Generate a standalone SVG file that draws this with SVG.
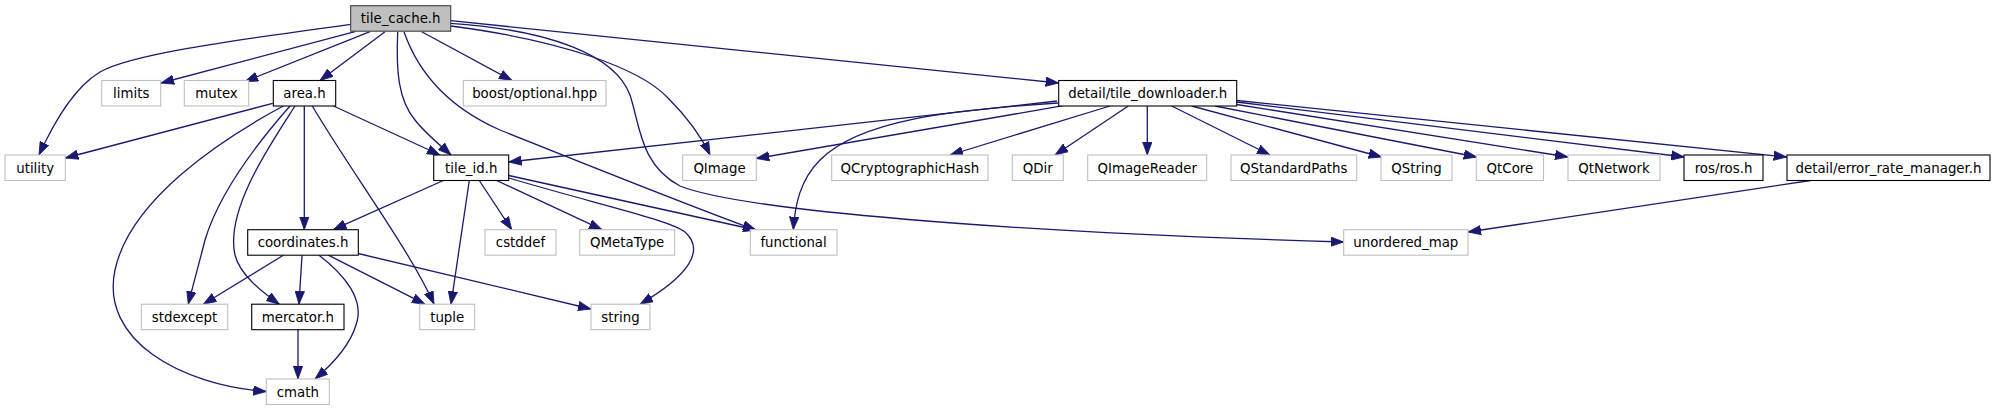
<svg xmlns="http://www.w3.org/2000/svg" width="1995" height="411" viewBox="0 0 1995 411">
<style>
.n rect{fill:#ffffff;stroke:#000000;stroke-width:1.1}
.n.root rect{fill:#bfbfbf;stroke:#404040}
.n.ext rect{stroke:#bfbfbf}
.n text{font-family:"DejaVu Sans",sans-serif;font-size:13.33px;fill:#000000;text-anchor:middle}
#edges path{fill:none;stroke:#191970;stroke-width:1.3;marker-end:url(#arr)}
</style>
<defs>
<marker id="arr" markerUnits="userSpaceOnUse" markerWidth="14" markerHeight="10" viewBox="0 0 14 10" refX="13" refY="5" orient="auto">
<path d="M0,0.3 L13,5 L0,9.7 z" fill="#191970" stroke="#191970" stroke-width="0.8"/>
</marker>
</defs>
<rect width="1995" height="411" fill="#ffffff"/>
<g id="edges">
<!-- tile_cache.h -->
<path d="M350.7,24.3 C220,42 130,55 100,72 C75,87 56,118 39,155"/>
<path d="M355,31.7 L161,83"/>
<path d="M370,31.7 L245,81.5"/>
<path d="M385,31.7 L320,80.5"/>
<path d="M397.7,31.7 C396,70 398,100 415,120 C425,133 440,145 451,155"/>
<path d="M404,31.7 C418,72 448,107 500,130 C600,170 700,210 756,230"/>
<path d="M421.7,31.7 L512,80.5"/>
<path d="M450.7,26 C560,40 640,68 668,98 C688,118 702,138 710,155"/>
<path d="M450.7,23.3 C550,30 615,55 630,95 C640,125 640,165 680,186 C740,210 1000,232 1343.7,242"/>
<path d="M450.7,20.7 L1058.7,83"/>
<!-- area.h -->
<path d="M272.7,103.3 L65.3,158"/>
<path d="M283.3,106 C220,140 130,200 115,270 C100,340 180,385 266.3,391.5"/>
<path d="M290,106 C260,140 220,190 205,240 C200,260 193,285 188.3,304.2"/>
<path d="M295,106 C270,145 225,210 235,255 C240,275 262,292 279.3,304.2"/>
<path d="M304.3,106 L304.3,229.7"/>
<path d="M312.3,106 C350,170 410,250 434,304.2"/>
<path d="M333.5,106 L440,155"/>
<!-- tile_id.h -->
<path d="M443.3,180.5 L333.3,229.7"/>
<path d="M469.3,180.5 L451,304.2"/>
<path d="M479.3,180.5 L511.7,229.7"/>
<path d="M496.7,180.5 L602,229.7"/>
<path d="M508.7,178 C600,205 670,220 685,232 C705,250 690,275 640,304.2"/>
<path d="M508.7,175.5 L756,230"/>
<!-- coordinates.h -->
<path d="M283.3,255.2 L203.3,304.2"/>
<path d="M302,255.2 L299,304.2"/>
<path d="M319,255.2 C345,275 365,300 356,325 C350,345 335,362 315,379"/>
<path d="M328.3,255.2 L425,304.2"/>
<path d="M358.3,253.5 L591,309"/>
<!-- mercator.h -->
<path d="M298,329.7 L298,379"/>
<!-- tile_downloader.h -->
<path d="M1057,101 L508.7,162"/>
<path d="M1063.3,105.7 L756.3,158.5"/>
<path d="M1058,103 C950,110 860,120 820,160 C800,180 795,205 793.3,229.7"/>
<path d="M1110,106 L950,155"/>
<path d="M1128.3,106 L1055,155"/>
<path d="M1147.3,106 L1147.3,155"/>
<path d="M1171.7,106 L1270,155"/>
<path d="M1191.7,106 L1381.7,157"/>
<path d="M1215,106 L1476.7,157"/>
<path d="M1236.7,104.5 L1568,157"/>
<path d="M1236.7,102 L1684.3,157"/>
<path d="M1236.7,100.5 L1786.7,157"/>
<!-- error_rate_manager.h -->
<path d="M1810.6,180.5 L1468,232"/>
</g>
<g id="node_tile_cache" class="n root"><rect x="350.7" y="5.7" width="100" height="25.5"/><text x="400.7" y="23.2">tile_cache.h</text></g>
<g id="node_limits" class="n ext"><rect x="101.7" y="80.5" width="59" height="25.5"/><text x="131.2" y="98">limits</text></g>
<g id="node_mutex" class="n ext"><rect x="184.3" y="80.5" width="64.4" height="25.5"/><text x="216.5" y="98">mutex</text></g>
<g id="node_area" class="n"><rect x="273.3" y="80.5" width="62.4" height="25.5"/><text x="304.5" y="98">area.h</text></g>
<g id="node_boost_optional" class="n ext"><rect x="463.3" y="80.5" width="142.7" height="25.5"/><text x="534.7" y="98">boost/optional.hpp</text></g>
<g id="node_tile_downloader" class="n"><rect x="1058.7" y="80.5" width="178" height="25.5"/><text x="1147.7" y="98">detail/tile_downloader.h</text></g>
<g id="node_utility" class="n ext"><rect x="5" y="155" width="60.3" height="25.5"/><text x="35.2" y="172.5">utility</text></g>
<g id="node_tile_id" class="n"><rect x="433.7" y="155" width="75" height="25.5"/><text x="471.2" y="172.5">tile_id.h</text></g>
<g id="node_QImage" class="n ext"><rect x="682.7" y="155" width="73.6" height="25.5"/><text x="719.5" y="172.5">QImage</text></g>
<g id="node_QCryptographicHash" class="n ext"><rect x="831.7" y="155" width="156.3" height="25.5"/><text x="909.8" y="172.5">QCryptographicHash</text></g>
<g id="node_QDir" class="n ext"><rect x="1012.3" y="155" width="51" height="25.5"/><text x="1037.8" y="172.5">QDir</text></g>
<g id="node_QImageReader" class="n ext"><rect x="1087.7" y="155" width="119" height="25.5"/><text x="1147.2" y="172.5">QImageReader</text></g>
<g id="node_QStandardPaths" class="n ext"><rect x="1231" y="155" width="125.7" height="25.5"/><text x="1293.8" y="172.5">QStandardPaths</text></g>
<g id="node_QString" class="n ext"><rect x="1381" y="155" width="71" height="25.5"/><text x="1416.5" y="172.5">QString</text></g>
<g id="node_QtCore" class="n ext"><rect x="1476.3" y="155" width="67.2" height="25.5"/><text x="1509.9" y="172.5">QtCore</text></g>
<g id="node_QtNetwork" class="n ext"><rect x="1568" y="155" width="92" height="25.5"/><text x="1614" y="172.5">QtNetwork</text></g>
<g id="node_ros" class="n"><rect x="1684" y="155" width="79" height="25.5"/><text x="1723.5" y="172.5">ros/ros.h</text></g>
<g id="node_error_rate_manager" class="n"><rect x="1787" y="155" width="203" height="25.5"/><text x="1888.5" y="172.5">detail/error_rate_manager.h</text></g>
<g id="node_coordinates" class="n"><rect x="247.7" y="229.7" width="110.6" height="25.5"/><text x="303" y="247.2">coordinates.h</text></g>
<g id="node_cstddef" class="n ext"><rect x="485" y="229.7" width="71" height="25.5"/><text x="520.5" y="247.2">cstddef</text></g>
<g id="node_QMetaType" class="n ext"><rect x="579.7" y="229.7" width="95" height="25.5"/><text x="627.2" y="247.2">QMetaType</text></g>
<g id="node_functional" class="n ext"><rect x="750.3" y="229.7" width="86.7" height="25.5"/><text x="793.6" y="247.2">functional</text></g>
<g id="node_unordered_map" class="n ext"><rect x="1343.7" y="229.7" width="124.3" height="25.5"/><text x="1405.8" y="247.2">unordered_map</text></g>
<g id="node_stdexcept" class="n ext"><rect x="141.3" y="304.2" width="86.4" height="25.5"/><text x="184.5" y="321.7">stdexcept</text></g>
<g id="node_mercator" class="n"><rect x="251.7" y="304.2" width="92.3" height="25.5"/><text x="297.8" y="321.7">mercator.h</text></g>
<g id="node_tuple" class="n ext"><rect x="419.7" y="304.2" width="55" height="25.5"/><text x="447.2" y="321.7">tuple</text></g>
<g id="node_string" class="n ext"><rect x="591" y="304.2" width="59" height="25.5"/><text x="620.5" y="321.7">string</text></g>
<g id="node_cmath" class="n ext"><rect x="266.3" y="379" width="63" height="25.5"/><text x="297.8" y="396.5">cmath</text></g>
</svg>
